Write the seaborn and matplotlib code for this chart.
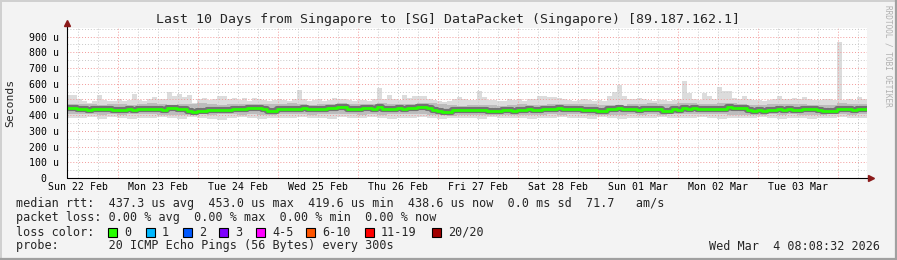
import numpy as np
import pandas as pd
import matplotlib
matplotlib.use("Agg")
import matplotlib.pyplot as plt
import matplotlib.dates as mdates
import matplotlib.transforms as mtransforms
from matplotlib.lines import Line2D
from matplotlib.patches import Rectangle
import seaborn as sns

# ---------------- data ----------------
# median rtt (microseconds), one value per 90 min, starting Sun 22 Feb 08:42
median_us = [
    444, 444, 437, 437, 433, 439, 439, 439, 439, 431,
    431, 431, 439, 433, 437, 439, 439, 439, 439, 431,
    448, 448, 439, 439, 429, 420, 429, 429, 435, 435,
    435, 435, 431, 439, 439, 439, 444, 448, 448, 439,
    429, 425, 437, 437, 437, 437, 437, 444, 437, 437,
    439, 439, 446, 446, 452, 452, 439, 439, 439, 444,
    444, 437, 450, 439, 439, 439, 444, 437, 444, 444,
    452, 452, 446, 433, 425, 420, 420, 431, 431, 431,
    431, 434, 434, 434, 425, 429, 425, 433, 431, 425,
    433, 433, 439, 431, 431, 439, 439, 439, 446, 439,
    439, 439, 439, 431, 431, 431, 425, 425, 439, 439,
    446, 437, 439, 439, 433, 437, 437, 437, 437, 429,
    429, 439, 433, 444, 441, 448, 441, 441, 441, 441,
    441, 441, 450, 444, 444, 444, 433, 425, 435, 425,
    435, 435, 441, 433, 441, 431, 431, 439, 439, 439,
    435, 429, 429, 425, 441, 441, 441, 431, 437, 437,
]
# max ping (microseconds), same 90 min steps
max_us = [
    526, 526, 500, 490, 480, 492, 527, 495, 492, 492,
    500, 490, 498, 536, 495, 490, 505, 515, 500, 500,
    547, 520, 535, 515, 530, 480, 505, 512, 495, 505,
    522, 520, 500, 510, 498, 510, 490, 510, 505, 498,
    490, 498, 500, 495, 490, 505, 560, 500, 492, 495,
    500, 490, 495, 510, 505, 502, 495, 490, 498, 495,
    492, 500, 570, 505, 530, 505, 495, 530, 510, 520,
    525, 520, 505, 498, 490, 485, 490, 500, 515, 505,
    497, 495, 557, 515, 497, 495, 490, 492, 500, 495,
    505, 490, 500, 505, 520, 520, 515, 518, 510, 500,
    495, 490, 495, 500, 495, 490, 495, 492, 520, 550,
    590, 520, 505, 500, 510, 500, 495, 490, 495, 495,
    490, 495, 500, 620, 540, 500, 495, 540, 520, 505,
    582, 555, 552, 510, 505, 520, 505, 498, 495, 490,
    495, 500, 525, 505, 500, 510, 505, 515, 500, 498,
    495, 500, 505, 498, 864, 498, 500, 495, 515, 505,
]
# min ping and middle smoke band (microseconds), one value per 3 h
min_us = [
    385, 380, 388, 378, 390, 383, 376, 385, 380, 388,
    382, 375, 386, 380, 378, 372, 384, 388, 380, 376,
    385, 382, 379, 388, 384, 380, 377, 386, 383, 379,
    388, 381, 376, 384, 380, 386, 382, 378, 385, 380,
    383, 377, 386, 380, 384, 379, 375, 385, 382, 388,
    380, 384, 378, 386, 381, 376, 385, 380, 383, 387,
    379, 384, 380, 386, 382, 377, 385, 381, 379, 386,
    382, 378, 385, 380, 376, 384, 381, 386, 380, 384,
]
lo_mid_us = [
    408, 405, 410, 404, 406, 402, 407, 409, 405, 403,
    400, 398, 404, 406, 402, 408, 405, 403, 407, 404,
    401, 406, 409, 405, 403, 407, 410, 405, 408, 404,
    406, 402, 408, 405, 410, 406, 403, 398, 396, 401,
    403, 399, 402, 398, 401, 404, 400, 403, 406, 402,
    405, 408, 403, 400, 398, 404, 406, 402, 405, 403,
    407, 410, 408, 405, 409, 406, 402, 398, 403, 400,
    405, 404, 406, 402, 398, 402, 405, 408, 404, 406,
]
hi_mid_us = [
    470, 468, 472, 466, 470, 474, 467, 469, 478, 470,
    462, 468, 472, 476, 468, 466, 471, 469, 474, 470,
    468, 472, 475, 470, 466, 471, 474, 476, 469, 472,
    470, 475, 472, 468, 474, 478, 476, 471, 462, 458,
    464, 466, 462, 460, 465, 468, 462, 466, 470, 472,
    474, 470, 468, 466, 462, 460, 470, 474, 478, 470,
    468, 476, 480, 474, 472, 478, 475, 470, 466, 462,
    470, 468, 472, 470, 466, 462, 464, 476, 472, 470,
]
x_tick_labels = ["Sun 22 Feb", "Mon 23 Feb", "Tue 24 Feb", "Wed 25 Feb", "Thu 26 Feb",
                 "Fri 27 Feb", "Sat 28 Feb", "Sun 01 Mar", "Mon 02 Mar", "Tue 03 Mar"]
y_ticks = [0, 100, 200, 300, 400, 500, 600, 700, 800, 900]
y_tick_labels = ["0", "100 u", "200 u", "300 u", "400 u", "500 u", "600 u", "700 u", "800 u", "900 u"]
loss_labels = ["0", "1", "2", "3", "4-5", "6-10", "11-19", "20/20"]
loss_colors = ["#26ff00", "#00b8ff", "#0059ff", "#7e00ff", "#ff00ff", "#ff5500", "#ff0000", "#a10000"]
stats_rtt = [437.3, 453.0, 419.6, 438.6]
stats_loss = [0.00, 0.00, 0.00, 0.00]
rtt_sd_ms = 0.0
am_s = 71.7

# ---------------- figure ----------------
sns.set_style("white")
plt.rcParams['font.family'] = ['DejaVu Sans Mono']
plt.rcParams['axes.unicode_minus'] = False

W, H = 897, 260
fig = plt.figure(figsize=(W / 100, H / 100), dpi=100, facecolor='#f3f3f3')


def fx(x):
    return x / W


def fy(y):
    return 1 - y / H


ax = fig.add_axes([fx(67), fy(178), 800 / W, 150 / H])
ax.set_facecolor('white')

start = pd.Timestamp('2026-02-22 08:42')
end = start + pd.Timedelta(days=10)
t_fine = mdates.date2num(pd.date_range(start, periods=len(median_us) + 1, freq='90min').to_pydatetime())
t_coarse = mdates.date2num(pd.date_range(start, periods=len(min_us) + 1, freq='3h').to_pydatetime())


def ext(a):
    a = np.asarray(a, dtype=float)
    return np.append(a, a[-1])


med = ext(median_us)
# smoke
ax.fill_between(t_fine, med, ext(max_us), step='post', color='#dcdcdc', lw=0, zorder=1)
ax.fill_between(t_coarse, ext(min_us), ext(lo_mid_us), step='post', color='#dcdcdc', lw=0, zorder=1)
ax.fill_between(t_coarse, ext(lo_mid_us), ext(hi_mid_us), step='post', color='#bcbcbc', lw=0, zorder=1.2)

# grid
gcol_minor = '#c8c8c8'
gcol_major = '#f29a9a'
dots = (0, (1, 2))
t = pd.Timestamp('2026-02-22 00:00')
while t <= end:
    if t >= start:
        ax.axvline(mdates.date2num(t.to_pydatetime()), color=gcol_major if t.hour == 0 else gcol_minor,
                   lw=0.7, ls=dots, zorder=2)
    t += pd.Timedelta(hours=6)
for v in range(50, 960, 50):
    ax.axhline(v, color=gcol_major if v % 100 == 0 else gcol_minor, lw=0.7, ls=dots, zorder=2)

# median line with dark core
df = pd.DataFrame({'time': pd.to_datetime(mdates.num2date(t_fine)).tz_localize(None), 'rtt': med})
sns.lineplot(data=df, x='time', y='rtt', ax=ax, color='#737373', lw=4.4, drawstyle='steps-post',
             zorder=3, estimator=None)
sns.lineplot(data=df, x='time', y='rtt', ax=ax, color='#26ff00', lw=2.0, drawstyle='steps-post',
             zorder=4, estimator=None)

ax.set_xlim(t_fine[0], mdates.date2num(end.to_pydatetime()))
ax.set_ylim(0, 955)
noons = [mdates.date2num((pd.Timestamp('2026-02-22 12:00') + pd.Timedelta(days=i)).to_pydatetime())
         for i in range(len(x_tick_labels))]
ax.set_xticks(noons)
ax.set_xticklabels(x_tick_labels)
ax.set_yticks(y_ticks)
ax.set_yticklabels(y_tick_labels)
ax.tick_params(axis='both', length=0, labelsize=7.1, colors='black')
ax.tick_params(axis='x', pad=3)
ax.tick_params(axis='y', pad=6)
ax.set_xlabel('')
ax.set_ylabel('')
for s in ax.spines.values():
    s.set_visible(False)
# the "0" label sits two character cells further left, as in RRDtool
zero_lab = ax.get_yticklabels()[0]
zero_lab.set_transform(zero_lab.get_transform() +
                       mtransforms.ScaledTranslation(-12 / 100, 0, fig.dpi_scale_trans))

# axes lines with arrows
ax.plot([0, 0], [0, (178 - 22) / 150], transform=ax.transAxes, color='black', lw=0.8,
        clip_on=False, zorder=6)
ax.plot([0, (871 - 67) / 800], [0, 0], transform=ax.transAxes, color='black', lw=0.8,
        clip_on=False, zorder=6)
ax.plot([0], [(178 - 23) / 150], marker='^', ms=4.5, color='#8b1a1a', transform=ax.transAxes,
        clip_on=False, zorder=7)
ax.plot([(871 - 67) / 800], [0], marker='>', ms=4.5, color='#8b1a1a', transform=ax.transAxes,
        clip_on=False, zorder=7)

# texts
fig.text(fx(448), fy(19), "Last 10 Days from Singapore to [SG] DataPacket (Singapore) [89.187.162.1]",
         ha='center', va='center', fontsize=9.5)
fig.text(fx(10), fy(103), "Seconds", rotation=90, ha='center', va='center', fontsize=8.2)
fig.text(fx(888), fy(5), "RRDTOOL / TOBI OETIKER", rotation=270, ha='center', va='top',
         fontsize=5.6, color='#b0b0b0')

lfs = 8.5
line1 = ("median rtt:  %.1f us avg  %.1f us max  %.1f us min  %.1f us now  %.1f ms sd  %.1f   am/s"
         % (stats_rtt[0], stats_rtt[1], stats_rtt[2], stats_rtt[3], rtt_sd_ms, am_s))
line2 = ("packet loss: %.2f %% avg  %.2f %% max  %.2f %% min  %.2f %% now"
         % tuple(stats_loss))
fig.text(fx(16), fy(204), line1, ha='left', va='center', fontsize=lfs)
fig.text(fx(16), fy(218), line2, ha='left', va='center', fontsize=lfs)
fig.text(fx(16), fy(232), "loss color:", ha='left', va='center', fontsize=lfs)
box_x = [108, 146, 183, 219, 256, 306, 365, 432]
for bx, lab, col in zip(box_x, loss_labels, loss_colors):
    fig.add_artist(Rectangle((fx(bx), fy(236.5)), 8.5 / W, 9 / H, transform=fig.transFigure,
                             facecolor=col, edgecolor='black', lw=0.8))
    fig.text(fx(bx + 16), fy(232), lab, ha='left', va='center', fontsize=lfs)
fig.text(fx(16), fy(246), "probe:       20 ICMP Echo Pings (56 Bytes) every 300s",
         ha='left', va='center', fontsize=lfs)
fig.text(fx(880), fy(246), "Wed Mar  4 08:08:32 2026", ha='right', va='center', fontsize=lfs)

# frame
fig.add_artist(Line2D([0, 1], [fy(0.7), fy(0.7)], transform=fig.transFigure, color='#d0d0d0', lw=1.4))
fig.add_artist(Line2D([fx(0.7), fx(0.7)], [0, 1], transform=fig.transFigure, color='#d0d0d0', lw=1.4))
fig.add_artist(Line2D([0, 1], [fy(259.0), fy(259.0)], transform=fig.transFigure, color='#a0a0a0', lw=1.6))
fig.add_artist(Line2D([fx(896.0), fx(896.0)], [0, 1], transform=fig.transFigure, color='#a0a0a0', lw=1.6))

fig.savefig("out.png", dpi=100, facecolor=fig.get_facecolor())
